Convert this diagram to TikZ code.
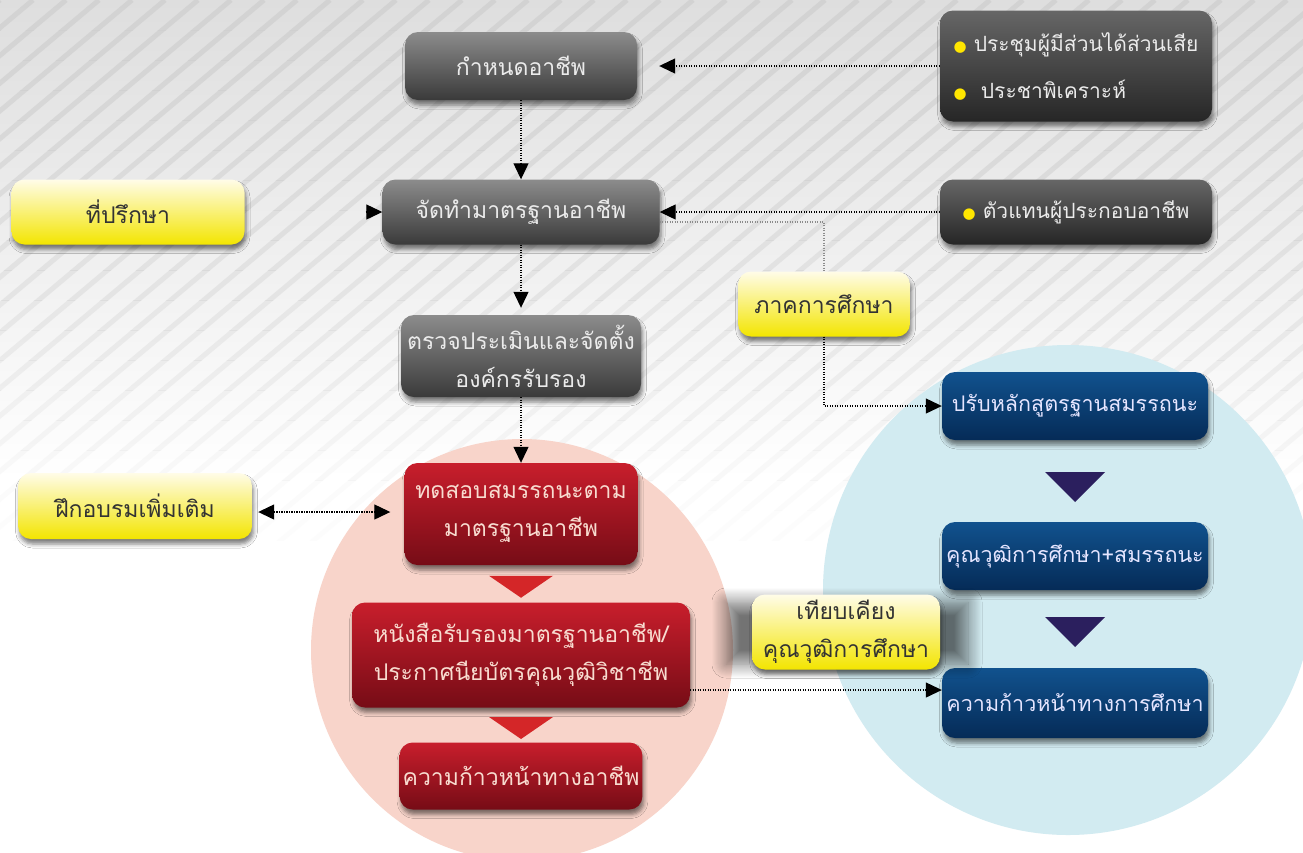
\documentclass[tikz,border=0pt]{standalone}
\usepackage{fontspec}
\usepackage{tikz}
\usetikzlibrary{arrows.meta,shadows.blur,calc}
\newfontfamily\thaifont[Script=Thai]{Loma}
\newfontfamily\symfont{DejaVu Sans}

\definecolor{bgtop}{HTML}{DEDEDE}
\definecolor{stripe}{HTML}{CFCFCF}
\definecolor{graytop}{HTML}{8C8C8C}
\definecolor{graybot}{HTML}{3A3A3A}
\definecolor{darktop}{HTML}{666666}
\definecolor{darkbot}{HTML}{262626}
\definecolor{redtop}{HTML}{C81E2C}
\definecolor{redbot}{HTML}{760C16}
\definecolor{navytop}{HTML}{11528E}
\definecolor{navybot}{HTML}{052B57}
\definecolor{yeltop}{HTML}{FFFCE8}
\definecolor{yelbot}{HTML}{F3E500}
\definecolor{pinkbg}{HTML}{F8D4CA}
\definecolor{bluebg}{HTML}{D2EBF1}
\definecolor{redtri}{HTML}{D42628}
\definecolor{navytri}{HTML}{2B1F5E}
\definecolor{dotyel}{HTML}{FFE600}
\definecolor{redtext}{HTML}{F8DCD0}

\newcommand{\ydot}{{\color{dotyel}\symfont\fontsize{15}{15}\selectfont ●}}

\tikzset{
  >={Triangle[length=16pt,width=15pt,fill=black]},
  box/.style={rounded corners=13pt, align=center, inner sep=3pt,
    font=\thaifont\fontsize{23}{38}\selectfont,
    blur shadow={shadow xshift=1.5pt, shadow yshift=-5pt, shadow blur radius=4pt, shadow opacity=50}},
  graybox/.style={box, top color=graytop, bottom color=graybot, text=white!92!black},
  darkbox/.style={box, top color=darktop, bottom color=darkbot, text=white!92!black},
  redbox/.style={box, top color=redtop, bottom color=redbot, text=redtext},
  navybox/.style={box, top color=navytop, bottom color=navybot, text=white!90!blue,
    font=\thaifont\fontsize{21.5}{38}\selectfont},
  yelbox/.style={box, top color=yeltop, bottom color=yelbot, text=black!80},
  link/.style={line width=1.2pt, dash pattern=on 1.2pt off 1.3pt, ->},
  stripeline/.style={stripe, line width=5pt},
}

\begin{document}
\begin{tikzpicture}[x=1pt, y=-1pt]
  % background
  \useasboundingbox (0,0) rectangle (1303,852);
  \clip (0,0) rectangle (1303,852);
  \fill[white] (0,0) rectangle (1303,852);
  \fill[top color=bgtop, bottom color=white] (0,0) rectangle (1303,480);
  \foreach \k in {0,...,17} {
    \begin{scope}
      \clip (0,\k*30) rectangle (1303,\k*30+30);
      \pgfmathsetmacro\op{0.75-\k/24}
      \draw[stripeline, opacity=\op] \foreach \sx in {0,33,...,2300} {(\sx,0) -- ++(-1000,840)};
    \end{scope}
  }

  \fill[pinkbg] (522,650) circle[radius=211];
  \fill[bluebg] (1068,590) circle[radius=245];

  % occupation side
  \node[graybox, minimum width=232pt, minimum height=68pt] (job) at (521,66) {กำหนดอาชีพ};
  \node[graybox, minimum width=277pt, minimum height=65pt] (std) at (521,212) {จัดทำมาตรฐานอาชีพ};
  \node[graybox, minimum width=240pt, minimum height=82pt] (audit) at (521,356) {ตรวจประเมินและจัดตั้ง\\องค์กรรับรอง};
  \node[redbox, minimum width=233pt, minimum height=102pt] (test) at (521,514) {ทดสอบสมรรถนะตาม\\มาตรฐานอาชีพ};
  \node[redbox, minimum width=338pt, minimum height=105pt] (cert) at (521,655) {หนังสือรับรองมาตรฐานอาชีพ/\\ประกาศนียบัตรคุณวุฒิวิชาชีพ};
  \node[redbox, minimum width=242pt, minimum height=67pt] (careeradv) at (521,776) {ความก้าวหน้าทางอาชีพ};

  \node[darkbox, minimum width=272pt, minimum height=111pt, align=left,
    font=\thaifont\fontsize{21}{47}\selectfont] (meet) at (1076,66) {\ydot\ ประชุมผู้มีส่วนได้ส่วนเสีย\\\ydot\ \ ประชาพิเคราะห์};
  \node[darkbox, minimum width=272pt, minimum height=65pt,
    font=\thaifont\fontsize{21}{38}\selectfont] (rep) at (1076,212) {\ydot\ ตัวแทนผู้ประกอบอาชีพ};

  \node[yelbox, minimum width=233pt, minimum height=65pt] (advisor) at (128,212) {ที่ปรึกษา};
  \node[yelbox, minimum width=172pt, minimum height=65pt] (edu) at (824,304) {ภาคการศึกษา};
  \node[yelbox, minimum width=234pt, minimum height=66pt] (train) at (135,506) {ฝึกอบรมเพิ่มเติม};

  % education side
  \node[navybox, minimum width=266pt, minimum height=68pt] (curr) at (1075,406) {ปรับหลักสูตรฐานสมรรถนะ};
  \node[navybox, minimum width=266pt, minimum height=68pt] (qual) at (1075,556) {คุณวุฒิการศึกษา+สมรรถนะ};
  \node[navybox, minimum width=266pt, minimum height=70pt] (eduadv) at (1075,703) {ความก้าวหน้าทางการศึกษา};

  \path[blur shadow={shadow xshift=0pt, shadow yshift=0pt, shadow blur radius=14pt,
    shadow blur steps=14, shadow opacity=55}]
    (726,602) rectangle (968,664);
  \node[yelbox, minimum width=188pt, minimum height=75pt] (compare) at (846,632) {เทียบเคียง\\คุณวุฒิการศึกษา};

  % step triangles
  \fill[redtri] ($(test.south)!0.5!(cert.north)+(-32,-8)$) -- ++(64,0) -- ++(-32,22) -- cycle;
  \fill[redtri] ($(cert.south)!0.5!(careeradv.north)+(-32,-8)$) -- ++(64,0) -- ++(-32,22) -- cycle;
  \fill[navytri] ($(curr.south)!0.5!(qual.north)+(-30,-9)$) -- ++(60,0) -- ++(-30,30) -- cycle;
  \fill[navytri] ($(qual.south)!0.5!(eduadv.north)+(-30,-12)$) -- ++(60,0) -- ++(-30,30) -- cycle;

  % connectors
  \draw[link, shorten >=22pt] (meet) -- (job);
  \draw[link] (rep) -- (std);
  \draw[link] (job) -- (std);
  \draw[link, shorten >=7pt] (std) -- (audit);
  \draw[link] (audit) -- (test);
  \draw[link, shorten <=121pt] (advisor) -- (std);
  \draw[link, -, black!45] ([yshift=-10pt]std.east) -| (edu.north);
  \draw[link] (edu.south) |- (curr.west);
  \draw[link, <->, shorten >=14pt, shorten <=6pt] ([yshift=-6pt]train.east) -- ([yshift=-6pt]train.east -| test.west);
  \draw[link] ([yshift=-35pt]cert.east) -- ([yshift=-35pt]cert.east -| eduadv.west);
\end{tikzpicture}
\end{document}
